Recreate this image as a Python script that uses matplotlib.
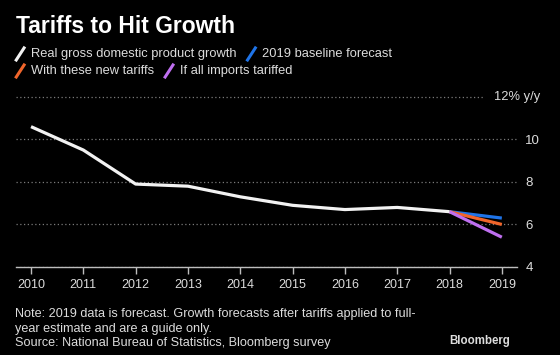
import matplotlib
matplotlib.use("Agg")
import matplotlib.pyplot as plt
from matplotlib.lines import Line2D

plt.rcParams['font.family'] = ['Liberation Sans', 'DejaVu Sans']

years = [2010, 2011, 2012, 2013, 2014, 2015, 2016, 2017, 2018]
gdp = [10.6, 9.5, 7.9, 7.8, 7.3, 6.9, 6.7, 6.8, 6.6]
fc_years = [2018, 2019]
baseline = [6.6, 6.3]
new_tariffs = [6.6, 6.0]
all_tariffed = [6.6, 5.4]
yticks = [4, 6, 8, 10]
xticks = list(range(2010, 2020))

bg = 'black'
white = '#f2f2f2'
blue = '#1f74e8'
orange = '#f0652b'
purple = '#bf6ff0'
grey = '#bdbdbd'

fig = plt.figure(figsize=(5.6, 3.55), dpi=100, facecolor=bg)
ax = fig.add_axes([0.0286, 0.248, 0.8946, 0.491], facecolor=bg)

for v in yticks:
    ax.axhline(v, color='#7a7a7a', lw=0.9, ls=(0, (1, 2)), zorder=1)
# top gridline stops short of its label
ax.axhline(12, xmax=0.934, color='#7a7a7a', lw=0.9, ls=(0, (1, 2)), zorder=1)

ax.plot(fc_years, baseline, color=blue, lw=2.3, solid_capstyle='butt', zorder=3)
ax.plot(fc_years, new_tariffs, color=orange, lw=2.3, solid_capstyle='butt', zorder=3)
ax.plot(fc_years, all_tariffed, color=purple, lw=2.3, solid_capstyle='butt', zorder=3)
ax.plot(years, gdp, color=white, lw=2.3, solid_capstyle='butt', zorder=4)

ax.set_xlim(2009.713, 2019.29)
ax.set_ylim(4, 12.2)
ax.set_xticks(xticks)
ax.set_xticklabels([str(y) for y in xticks])
ax.set_yticks(yticks)
ax.yaxis.tick_right()
for s in ['top', 'left', 'right']:
    ax.spines[s].set_visible(False)
ax.spines['bottom'].set_color(grey)
ax.spines['bottom'].set_linewidth(1)
ax.tick_params(axis='x', colors=grey, labelcolor='#dcdcdc', length=5, width=1,
               labelsize=9, pad=4)
ax.tick_params(axis='y', length=0, labelcolor='#dcdcdc', labelsize=9.5, pad=6)
ax.text(0.954, 12, '12% y/y', transform=ax.get_yaxis_transform(), ha='left',
        va='center', color='#dcdcdc', fontsize=9.3)

fig.text(0.028, 0.926, 'Tariffs to Hit Growth', color='white', fontsize=16.5,
         fontweight='bold', va='center', ha='left')

# legend with slanted marks
def legend_item(x, y, color, label):
    fig.add_artist(Line2D([x, x + 0.014], [y - 0.017, y + 0.017], color=color,
                          lw=2.2, transform=fig.transFigure))
    t = fig.text(x + 0.026, y, label, color='#dcdcdc', fontsize=9.3, va='center')
    return t

fig.canvas.draw()
r = fig.canvas.get_renderer()
t1 = legend_item(0.029, 0.848, white, 'Real gross domestic product growth')
x2 = t1.get_window_extent(r).x1 / fig.bbox.width + 0.02
legend_item(x2, 0.848, blue, '2019 baseline forecast')
t3 = legend_item(0.029, 0.800, orange, 'With these new tariffs')
x4 = t3.get_window_extent(r).x1 / fig.bbox.width + 0.02
legend_item(x4, 0.800, purple, 'If all imports tariffed')

note = ('Note: 2019 data is forecast. Growth forecasts after tariffs applied to full-\n'
        'year estimate and are a guide only.\n'
        'Source: National Bureau of Statistics, Bloomberg survey')
fig.text(0.027, 0.016, note, color='#dcdcdc', fontsize=9.1, va='bottom',
         ha='left', linespacing=1.3)
fig.text(0.911, 0.022, 'Bloomberg', color='#dcdcdc', fontsize=8.3,
         fontweight='bold', ha='right', va='bottom',
         family=['Liberation Sans Narrow', 'Liberation Sans', 'DejaVu Sans'])

fig.savefig('out.png', dpi=100, facecolor=bg)
